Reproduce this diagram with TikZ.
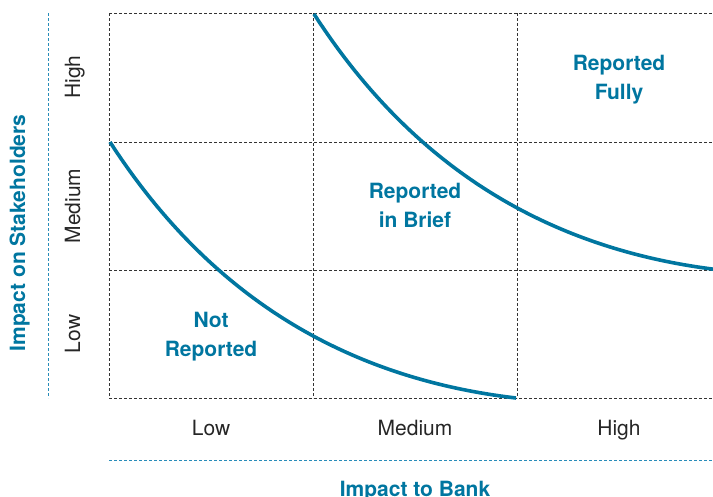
\documentclass[tikz,border=0pt]{standalone}
\usepackage{fontspec}
\setmainfont{TeX Gyre Heros}
\usetikzlibrary{positioning}
\definecolor{bankteal}{RGB}{0,118,160}
\definecolor{axisteal}{RGB}{40,140,185}

\begin{document}
\begin{tikzpicture}[x=1pt, y=-1pt,
    gridline/.style={black!80, line width=0.9pt, dash pattern=on 3pt off 2pt},
    axisline/.style={axisteal, line width=1pt, dash pattern=on 3pt off 2pt},
    curveline/.style={bankteal, line width=3.6pt},
    ticklabel/.style={font=\fontsize{21}{25}\selectfont, text=black!85, anchor=base},
    zonelabel/.style={align=center, font=\fontsize{21}{29}\selectfont\bfseries, text=bankteal},
    axistitle/.style={font=\fontsize{21}{25}\selectfont\bfseries, text=bankteal, anchor=base}]
    \useasboundingbox (0,0) rectangle (713,496);

    % grid of the matrix
    \foreach \y in {13,142,270,398}
        \draw[gridline] (109,\y) -- (713,\y);
    \foreach \x in {109,313,517}
        \draw[gridline] (\x,13) -- (\x,398);

    % axis lines
    \draw[axisline] (48,13) -- (48,398);
    \draw[axisline] (109,460) -- (713,460);

    % boundary curves
    \draw[curveline] (110,142) .. controls (210,297) and (346,378) .. (516,398);
    \begin{scope}
        \clip (0,0) rectangle (713,496);
        \draw[curveline, shift={(204,-128)}] (110,142) .. controls (210,297) and (346,378) .. (516,398);
    \end{scope}

    % zone labels
    \node[zonelabel] (notrep) at (211,337) {Not\\Reported};
    \node[zonelabel] (brief) at (415,205) {Reported\\in Brief};
    \node[zonelabel] (fully) at (619,80) {Reported\\Fully};

    % tick labels
    \node[ticklabel] (xlow) at (211,435) {Low};
    \node[ticklabel] (xmed) at (415,435) {Medium};
    \node[ticklabel] (xhigh) at (619,435) {High};
    \node[ticklabel, rotate=90] (ylow) at (80,334) {Low};
    \node[ticklabel, rotate=90] (ymed) at (80,206) {Medium};
    \node[ticklabel, rotate=90] (yhigh) at (80,77) {High};

    % axis titles
    \node[axistitle, rotate=90] (ytitle) at (25,233) {Impact on Stakeholders};
    \node[axistitle] (xtitle) at (415,496) {Impact to Bank};
\end{tikzpicture}
\end{document}
